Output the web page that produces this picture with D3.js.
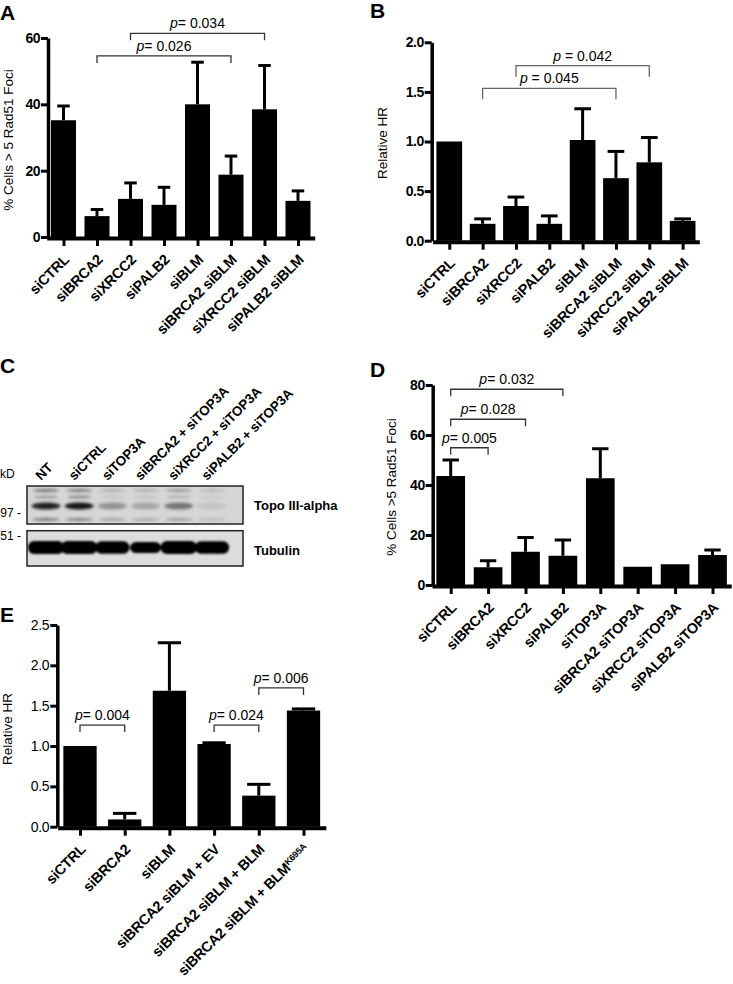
<!DOCTYPE html>
<html><head><meta charset="utf-8">
<script src="https://cdn.jsdelivr.net/npm/d3@7"></script>
<style>
body{margin:0;background:#fff;}
svg text{font-family:"Liberation Sans",Arial,Helvetica,sans-serif;}
</style></head><body>
<svg id="fig" width="733" height="984"></svg>
<script>
// ---------------- DATA ----------------
// Panel A
const catsA = ["siCTRL","siBRCA2","siXRCC2","siPALB2","siBLM","siBRCA2 siBLM","siXRCC2 siBLM","siPALB2 siBLM"];
const meanA = [35.2, 6.3, 11.5, 9.7, 40.0, 18.8, 38.5, 10.9];
const errA  = [4.3, 2.0, 4.8, 5.3, 12.7, 5.6, 13.2, 3.0];
const ticksA = [0, 20, 40, 60];
const pA = [
  {from:"siBRCA2", to:"siBRCA2 siBLM", level:54.6, text:"= 0.026"},
  {from:"siXRCC2", to:"siXRCC2 siBLM", level:61.4, text:"= 0.034"}
];
// Panel B
const catsB = ["siCTRL","siBRCA2","siXRCC2","siPALB2","siBLM","siBRCA2 siBLM","siXRCC2 siBLM","siPALB2 siBLM"];
const meanB = [1.0, 0.17, 0.35, 0.17, 1.015, 0.63, 0.79, 0.20];
const errB  = [0, 0.05, 0.09, 0.08, 0.315, 0.27, 0.25, 0.02];
const ticksB = [0, 0.5, 1.0, 1.5, 2.0];
const pB = [
  {from:"siBRCA2", to:"siBRCA2 siBLM", level:1.536, text:" = 0.045"},
  {from:"siXRCC2", to:"siXRCC2 siBLM", level:1.764, text:" = 0.042"}
];
// Panel C (western blot) band intensities per lane
const lanesC = ["NT","siCTRL","siTOP3A","siBRCA2 + siTOP3A","siXRCC2 + siTOP3A","siPALB2 + siTOP3A"];
const topoTop    = [0.55, 0.50, 0.22, 0.20, 0.35, 0.18];
const topoSecond = [0.35, 0.45, 0.10, 0.12, 0.22, 0.08];
const topoMain   = [0.95, 1.00, 0.35, 0.25, 0.50, 0.10];
const topoLower  = [0.50, 0.45, 0.28, 0.25, 0.30, 0.15];
const tubulin    = [1.00, 1.00, 0.95, 0.85, 1.00, 0.95];
const markersC = ["97 -", "51 -"];
const blotNames = ["Topo III-alpha", "Tubulin"];
// Panel D
const catsD = ["siCTRL","siBRCA2","siXRCC2","siPALB2","siTOP3A","siBRCA2 siTOP3A","siXRCC2 siTOP3A","siPALB2 siTOP3A"];
const meanD = [43.6, 7.1, 13.3, 11.7, 42.7, 7.3, 8.3, 12.0];
const errD  = [6.4, 2.6, 5.7, 6.3, 11.8, 0, 0, 2.0];
const ticksD = [0, 20, 40, 60, 80];
const pD = [
  {from:"siCTRL", to:"siBRCA2", level:54.9, text:"= 0.005"},
  {from:"siCTRL", to:"siXRCC2", level:66.3, text:"= 0.028"},
  {from:"siCTRL", to:"siPALB2", level:78.3, text:"= 0.032"}
];
// Panel E
const catsE = ["siCTRL","siBRCA2","siBLM","siBRCA2 siBLM + EV","siBRCA2 siBLM + BLM","siBRCA2 siBLM + BLM^K695A"];
const meanE = [1.0, 0.09, 1.685, 1.025, 0.385, 1.44];
const errE  = [0, 0.075, 0.595, 0.015, 0.14, 0.02];
const ticksE = [0, 0.5, 1.0, 1.5, 2.0, 2.5];
const pE = [
  {from:"siCTRL", to:"siBRCA2", level:1.26, text:"= 0.004"},
  {from:"siBRCA2 siBLM + EV", to:"siBRCA2 siBLM + BLM", level:1.26, text:"= 0.024"},
  {from:"siBRCA2 siBLM + BLM", to:"siBRCA2 siBLM + BLM^K695A", level:1.72, text:"= 0.006"}
];

// ---------------- DRAWING ----------------
const svg = d3.select("#fig");
const FONT = '"Liberation Sans", Arial, Helvetica, sans-serif';
svg.append("rect").attr("width",733).attr("height",984).attr("fill","#fff");

function barPanel(cfg){
  const g = svg.append("g");
  const x = d3.scalePoint().domain(cfg.cats).range(cfg.xRange).padding(0.5);
  const y = d3.scaleLinear().domain([0, cfg.ticks[cfg.ticks.length-1]]).range(cfg.yRange);
  const rows = cfg.cats.map((c,i)=>({c, m:cfg.means[i], e:cfg.errs[i]}));

  const eb = rows.filter(d=>d.e>0);
  g.append("g").selectAll("line").data(eb).join("line")
    .attr("x1",d=>x(d.c)).attr("x2",d=>x(d.c))
    .attr("y1",d=>y(d.m)).attr("y2",d=>y(d.m+d.e))
    .attr("stroke","#000").attr("stroke-width",3);
  g.append("g").selectAll("line").data(eb).join("line")
    .attr("x1",d=>x(d.c)-cfg.barW*cfg.capFrac/2).attr("x2",d=>x(d.c)+cfg.barW*cfg.capFrac/2)
    .attr("y1",d=>y(d.m+d.e)).attr("y2",d=>y(d.m+d.e))
    .attr("stroke","#000").attr("stroke-width",3);
  g.append("g").selectAll("rect").data(rows).join("rect")
    .attr("x",d=>x(d.c)-cfg.barW/2).attr("width",cfg.barW)
    .attr("y",d=>y(d.m)).attr("height",d=>y(0)-y(d.m))
    .attr("fill","#000");

  const ya = g.append("g").attr("transform",`translate(${cfg.axisX},0)`)
    .call(d3.axisLeft(y).tickValues(cfg.ticks).tickFormat(cfg.fmt).tickSize(7).tickSizeOuter(0).tickPadding(1));
  ya.attr("font-family",FONT).attr("font-size",14);
  ya.select(".domain").attr("stroke","#000").attr("stroke-width",3.5);
  ya.selectAll(".tick line").attr("stroke","#000").attr("stroke-width",3);
  ya.selectAll(".tick text").attr("fill","#000").attr("font-weight",cfg.tickBold?"bold":"normal")
    .attr("letter-spacing",cfg.tickBold?"-0.5":"-0.3");

  const xa = g.append("g").attr("transform",`translate(0,${y(0)+1})`)
    .call(d3.axisBottom(x).tickSize(8).tickSizeOuter(0).tickFormat(""));
  xa.select(".domain").attr("stroke","#000").attr("stroke-width",4);
  xa.selectAll(".tick line").attr("stroke","#000").attr("stroke-width",3);

  const xl = g.append("g").selectAll("text").data(cfg.cats).join("text")
    .attr("transform",d=>`translate(${x(d)+cfg.lblDx},${y(0)+cfg.lblDy}) rotate(-45)`)
    .attr("text-anchor","end").attr("font-weight","bold").attr("font-size",14.5)
    .attr("letter-spacing","-0.3").attr("fill","#000");
  xl.each(function(d){
    const parts = d.split("^");
    const t = d3.select(this);
    t.append("tspan").attr("dy","0.35em").text(parts[0]);
    if(parts[1]) t.append("tspan").attr("dy","-0.5em").attr("font-size",9).text(parts[1]);
  });

  g.append("text").attr("transform",`translate(${cfg.titlePos[0]},${cfg.titlePos[1]}) rotate(-90)`)
    .attr("text-anchor","middle").attr("dy","0.35em").attr("font-size",13.5).attr("fill","#000")
    .text(cfg.title);

  cfg.pvals.forEach(p=>{
    const x1 = x(p.from), x2 = x(p.to), yy = y(p.level);
    g.append("path").attr("d",`M${x1},${yy+cfg.drop}V${yy}H${x2}V${yy+cfg.drop}`)
      .attr("fill","none").attr("stroke",cfg.bracketColor).attr("stroke-width",1.3);
    const t = g.append("text").attr("x",(x1+x2)/2).attr("y",yy-5)
      .attr("text-anchor","middle").attr("font-size",14).attr("fill","#000");
    t.append("tspan").attr("font-style","italic").text("p");
    t.append("tspan").text(p.text);
  });

  g.append("text").attr("x",cfg.letterPos[0]).attr("y",cfg.letterPos[1])
    .attr("font-size",21).attr("font-weight","bold").attr("fill","#000").text(cfg.letter);
}

barPanel({cats:catsA, means:meanA, errs:errA, ticks:ticksA, fmt:d3.format("d"),
  xRange:[46.75,314.75], yRange:[237,38], axisX:48, barW:25, capFrac:0.5, tickBold:true,
  lblDx:3, lblDy:20, title:"% Cells > 5 Rad51 Foci", titlePos:[8,140], pvals:pA, drop:7,
  bracketColor:"#333", letter:"A", letterPos:[0,20]});

barPanel({cats:catsB, means:meanB, errs:errB, ticks:ticksB, fmt:d3.format(".1f"),
  xRange:[432.6,699.3], yRange:[240.7,42.3], axisX:431.7, barW:25.7, capFrac:0.65, tickBold:true,
  lblDx:3, lblDy:20, title:"Relative HR", titlePos:[382.5,143], pvals:pB, drop:11,
  bracketColor:"#666", letter:"B", letterPos:[370,18]});

barPanel({cats:catsD, means:meanD, errs:errD, ticks:ticksD, fmt:d3.format("d"),
  xRange:[432,731.2], yRange:[585,385], axisX:432.7, barW:28.7, capFrac:0.57, tickBold:true,
  lblDx:3, lblDy:20, title:"% Cells >5 Rad51 Foci", titlePos:[391.5,487], pvals:pD, drop:7,
  bracketColor:"#333", letter:"D", letterPos:[370,377]});

barPanel({cats:catsE, means:meanE, errs:errE, ticks:ticksE, fmt:d3.format(".1f"),
  xRange:[57.65,325.85], yRange:[826.7,625], axisX:57.3, barW:33.3, capFrac:0.7, tickBold:false,
  lblDx:3, lblDy:20, title:"Relative HR", titlePos:[7,729], pvals:pE, drop:7,
  bracketColor:"#333", letter:"E", letterPos:[0,622]});

// ---------------- Panel C: western blot ----------------
(function(){
  const g = svg.append("g");
  const defs = svg.append("defs");
  defs.append("filter").attr("id","blur").attr("x","-20%").attr("y","-50%").attr("width","140%").attr("height","200%")
    .append("feGaussianBlur").attr("stdDeviation",1.4);
  defs.append("filter").attr("id","blur2").attr("x","-20%").attr("y","-50%").attr("width","140%").attr("height","200%")
    .append("feGaussianBlur").attr("stdDeviation",1.2);
  const lx = d3.scalePoint().domain(lanesC).range([46,212]);
  const box1 = {x:27, y:486, w:216, h:38};
  const box2 = {x:27, y:530.7, w:216, h:35.3};
  [box1, box2].forEach((b,i)=>{
    defs.append("clipPath").attr("id","clip"+i).append("rect").attr("x",b.x).attr("y",b.y).attr("width",b.w).attr("height",b.h);
    g.append("rect").attr("x",b.x).attr("y",b.y).attr("width",b.w).attr("height",b.h).attr("fill",i?"#dcdcdc":"#d6d6d6");
  });
  const up = g.append("g").attr("clip-path","url(#clip0)").append("g").attr("filter","url(#blur)");
  const bandRow = (arr, cy, h, w) => up.append("g").selectAll("ellipse").data(lanesC).join("ellipse")
      .attr("cx",d=>lx(d)).attr("cy",cy).attr("rx",w/2).attr("ry",h/2)
      .attr("fill","#000").attr("opacity",(d,i)=>arr[i]*0.9);
  bandRow(topoTop, 490.5, 3, 26);
  bandRow(topoSecond, 497, 2.5, 24);
  bandRow(topoMain, 506, 7, 29);
  bandRow(topoLower, 519.5, 3, 28);
  const low = g.append("g").attr("clip-path","url(#clip1)").append("g").attr("filter","url(#blur2)");
  low.selectAll("rect").data(lanesC).join("rect")
    .attr("x",(d,i)=>lx(d)-17*tubulin[i]-1).attr("width",(d,i)=>34*tubulin[i]+2)
    .attr("y",(d,i)=>547.5-6.5*tubulin[i]).attr("height",(d,i)=>13*tubulin[i])
    .attr("rx",6).attr("fill","#050505");
  [box1, box2].forEach(b=>{
    g.append("rect").attr("x",b.x).attr("y",b.y).attr("width",b.w).attr("height",b.h)
      .attr("fill","none").attr("stroke","#222").attr("stroke-width",1.5);
  });
  g.append("g").selectAll("text").data(lanesC).join("text")
    .attr("transform",d=>`translate(${lx(d)-5},481) rotate(-45)`)
    .attr("font-weight","bold").attr("font-size",13.5).attr("letter-spacing","-0.2").attr("fill","#000").text(d=>d);
  g.append("text").attr("x",0).attr("y",478).attr("font-size",12).attr("fill","#000").text("kD");
  g.selectAll("text.mk").data(markersC).join("text").attr("class","mk")
    .attr("x",21).attr("y",(d,i)=>[517,540][i]).attr("text-anchor","end")
    .attr("font-size",12).attr("fill","#000").text(d=>d);
  g.selectAll("text.bn").data(blotNames).join("text").attr("class","bn")
    .attr("x",254).attr("y",(d,i)=>[509.5,555][i])
    .attr("font-size",13).attr("font-weight","bold").attr("fill","#000").text(d=>d);
  g.append("text").attr("x",0).attr("y",373).attr("font-size",21).attr("font-weight","bold").attr("fill","#000").text("C");
})();
</script>
</body></html>
